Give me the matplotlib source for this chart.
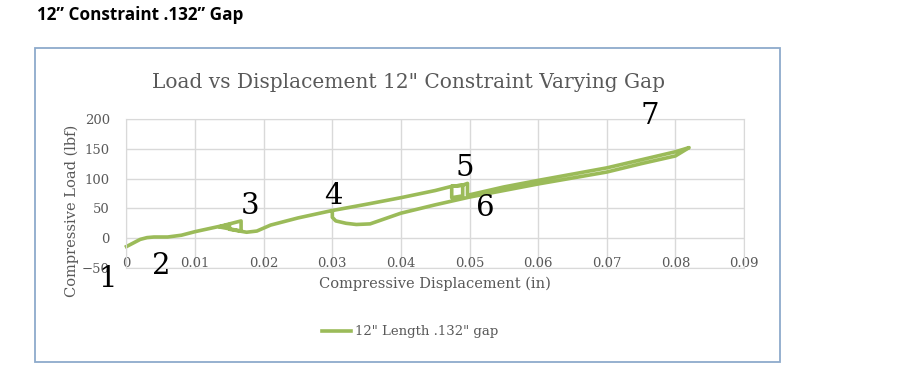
import matplotlib.pyplot as plt
from matplotlib.patches import Rectangle

# displacement (in) / load (lbf)
disp = [0.0, 0.001, 0.002, 0.003, 0.004, 0.006, 0.008, 0.010, 0.012, 0.014,
        0.0167, 0.0167, 0.0135, 0.015, 0.015, 0.0175, 0.019, 0.021, 0.025,
        0.0298, 0.035, 0.040, 0.045, 0.0474, 0.0474, 0.049, 0.049, 0.0474,
        0.049, 0.0497, 0.0497, 0.055, 0.060, 0.070, 0.080, 0.082,
        0.080, 0.075, 0.070, 0.060, 0.055, 0.050, 0.045, 0.040, 0.037,
        0.0355, 0.0335, 0.032, 0.0305, 0.0300, 0.0300]
load = [-14, -8, -2, 1, 2, 2, 5, 11, 16, 21,
        29, 12, 19, 23, 15, 10, 12, 22, 34,
        46, 57, 68, 80, 87, 68, 71, 89, 87,
        89, 92, 72, 86, 97, 118, 145, 152,
        138, 125, 111, 91, 80, 69, 56, 42, 30,
        24, 23, 25, 29, 35, 46]

xticks = [0, 0.01, 0.02, 0.03, 0.04, 0.05, 0.06, 0.07, 0.08, 0.09]
xlabels = ["0", "0.01", "0.02", "0.03", "0.04", "0.05", "0.06", "0.07", "0.08", "0.09"]
yticks = [-50, 0, 50, 100, 150, 200]

# point markers 1..7 (figure pixel positions)
marks = ["1", "2", "3", "4", "5", "6", "7"]
mark_xy = [(108, 279), (161, 266), (250, 206), (333, 196), (465, 168), (485, 208), (650, 116)]

grey = "#595959"
green = "#9BBB59"
W, H = 900, 384

fig = plt.figure(figsize=(9, 3.84), dpi=100)

def fx(px):
    return px / W

def fy(py):
    return 1 - py / H

# chart frame
fig.patches.append(Rectangle((fx(35), fy(362)), fx(780) - fx(35), fy(48) - fy(362),
                             transform=fig.transFigure, fill=False,
                             edgecolor="#8eaacb", lw=1.3))

fig.text(fx(37), fy(15), "12\u201d Constraint .132\u201d Gap", fontsize=12.3,
         fontweight="bold", family="Open Sans", va="center", ha="left")
fig.text(fx(408), fy(82), 'Load vs Displacement 12" Constraint Varying Gap',
         fontsize=14.5, family="DejaVu Serif", color=grey, ha="center", va="center")

ax = fig.add_axes([fx(126.5), fy(268), fx(744) - fx(126.5), fy(119) - fy(268)])
ax.plot(disp, load, color=green, lw=2.6, solid_joinstyle="round",
        label='12" Length .132" gap', clip_on=False)
ax.set_xlim(0, 0.09)
ax.set_ylim(-50, 200)
ax.set_xticks(xticks)
ax.set_xticklabels(xlabels)
ax.set_yticks(yticks)
ax.grid(True, color="#d9d9d9", lw=1)
ax.set_axisbelow(True)
for s in ax.spines.values():
    s.set_color("#d9d9d9")
ax.tick_params(length=0, labelcolor=grey, labelsize=9.5)
ax.tick_params(axis="x", pad=-8)
ax.tick_params(axis="y", pad=12)
for lab in ax.get_xticklabels() + ax.get_yticklabels():
    lab.set_family("DejaVu Serif")

fig.text(fx(435), fy(284), "Compressive Displacement (in)", fontsize=10.5,
         family="DejaVu Serif", color=grey, ha="center", va="center")
fig.text(fx(72), fy(211), "Compressive Load (lbf)", fontsize=10.5, rotation=90,
         family="DejaVu Serif", color=grey, ha="center", va="center")

for m, (px, py) in zip(marks, mark_xy):
    fig.text(fx(px), fy(py), m, fontsize=21, family="DejaVu Serif",
             color="black", ha="center", va="center")

fig.legend(loc="center", bbox_to_anchor=(fx(410), fy(332)), frameon=False,
           prop={"family": "DejaVu Serif", "size": 9.5}, labelcolor=grey,
           handlelength=2.2, handletextpad=0.3)

fig.savefig("out.png", dpi=100)
